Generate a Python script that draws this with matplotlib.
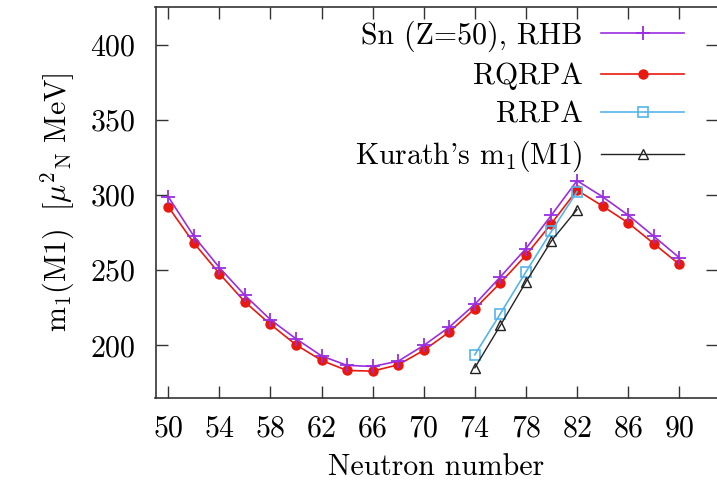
import matplotlib
matplotlib.use("Agg")
import matplotlib.pyplot as plt

plt.rcParams['font.family'] = 'serif'
plt.rcParams['font.serif'] = ['cmr10']
plt.rcParams['mathtext.fontset'] = 'cm'
plt.rcParams['axes.unicode_minus'] = False
plt.rcParams['axes.formatter.use_mathtext'] = True

# Data
n_full = [50, 52, 54, 56, 58, 60, 62, 64, 66, 68, 70, 72, 74, 76, 78, 80, 82, 84, 86, 88, 90]
rhb = [298.9, 272.7, 251.8, 233.3, 217.1, 204.4, 193.0, 186.7, 186.0, 189.5, 200.0,
       212.2, 227.3, 245.6, 264.4, 286.7, 309.6, 298.9, 286.7, 272.7, 258.4]
rqrpa = [292.2, 268.2, 247.8, 228.9, 214.0, 200.4, 190.0, 183.3, 182.9, 187.1, 196.7,
         208.9, 224.4, 241.6, 260.0, 281.1, 303.3, 292.7, 281.6, 267.8, 254.0]
n_part = [74, 76, 78, 80, 82]
rrpa = [193.8, 221.1, 248.9, 276.0, 302.2]
kurath = [185.1, 213.3, 242.2, 269.6, 290.4]
xticks = [50, 54, 58, 62, 66, 70, 74, 78, 82, 86, 90]
yticks = [200, 250, 300, 350, 400]

W, H = 717, 487
fig = plt.figure(figsize=(W / 100, H / 100), dpi=100)
left, right, bottom, top = 155.5, 717.5, 398, 6.5
ax = fig.add_axes([left / W, 1 - bottom / H, (right - left) / W, (bottom - top) / H])

purple = '#9a2ee0'
red = '#e8190f'
blue = '#56b4e9'
black = '#222222'

ax.plot(n_full, rhb, color=purple, lw=1.2, marker='+', ms=10, mew=1.3,
        label='Sn (Z=50), RHB', zorder=3)
ax.plot(n_full, rqrpa, color=red, lw=1.2, marker='o', ms=7.5, mew=0,
        label='RQRPA', zorder=2)
ax.plot(n_part, rrpa, color=blue, lw=1.2, marker='s', ms=7.5, mfc='none', mew=1.2,
        label='RRPA', zorder=4)
ax.plot(n_part, kurath, color=black, lw=1.0, marker='^', ms=6.5, mfc='none', mew=1.0,
        label=r"Kurath's m$_1$(M1)", zorder=4)

ax.set_xlim(49, 93)
ax.set_ylim(165, 425.5)
ax.set_xticks(xticks)
ax.set_yticks(yticks)

fs = 21.5
ax.tick_params(axis='both', direction='in', length=8.5, width=1.0, color='#333333',
               labelsize=fs, top=True, right=True)
ax.tick_params(axis='x', pad=12)
ax.tick_params(axis='y', pad=14)
for s in ax.spines.values():
    s.set_linewidth(1.2)
    s.set_color('#333333')

ax.set_xlabel('Neutron number', fontsize=fs, labelpad=8)
ax.set_ylabel(r"$\mathrm{m_1(M1)}\ \ [\mu^2{}_{\mathrm{N}}\ \mathrm{MeV}]$", fontsize=fs, labelpad=10)

leg = ax.legend(loc='upper right', frameon=False, markerfirst=False, fontsize=fs,
                handlelength=2.8, handletextpad=0.6, labelspacing=0.36,
                borderaxespad=0, borderpad=0,
                bbox_to_anchor=(684.5 / W, 1 - 20.5 / H),
                bbox_transform=fig.transFigure)
for t in leg.get_texts():
    t.set_ha('right')

fig.savefig('out.png', dpi=100)
